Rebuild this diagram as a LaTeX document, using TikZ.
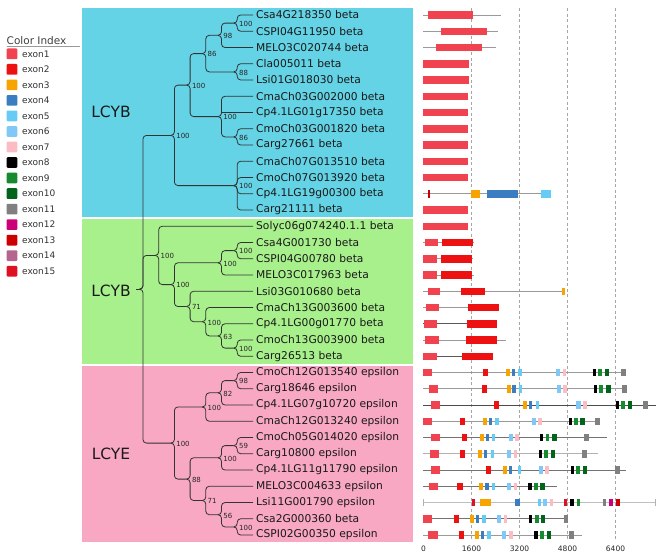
\documentclass[tikz,border=0pt]{standalone}
\usepackage{fontspec}
\setmainfont{DejaVu Sans}
\definecolor{e1}{HTML}{F0434F}
\definecolor{e2}{HTML}{EE1111}
\definecolor{e3}{HTML}{F7A400}
\definecolor{e4}{HTML}{3A7DC0}
\definecolor{e5}{HTML}{66CCF5}
\definecolor{e6}{HTML}{80C8F8}
\definecolor{e7}{HTML}{FBBCC4}
\definecolor{e8}{HTML}{000000}
\definecolor{e9}{HTML}{158A2E}
\definecolor{e10}{HTML}{00641A}
\definecolor{e11}{HTML}{808080}
\definecolor{e12}{HTML}{CC0077}
\definecolor{e13}{HTML}{CC0000}
\definecolor{e14}{HTML}{B5668F}
\definecolor{e15}{HTML}{DD1122}
\definecolor{bgcyan}{HTML}{64D3E5}
\definecolor{bggreen}{HTML}{A8F08C}
\definecolor{bgpink}{HTML}{F8A8C2}
\tikzset{
  branch/.style={draw=black!80, line width=0.8pt, rounded corners=3.5pt},
  leaf/.style={anchor=west, inner xsep=3pt, inner ysep=1pt, text=black!90, font=\fontsize{10.7}{12}\selectfont},
  boot/.style={anchor=west, inner sep=0.5pt, xshift=1.2pt, yshift=-0.8pt, text=black!85, font=\fontsize{7}{8}\selectfont},
  clade/.style={text=black!90, font=\fontsize{15.5}{18}\selectfont},
  legbox/.style={minimum size=10.7pt, inner sep=0pt, rounded corners=1pt},
  legtext/.style={anchor=west, inner sep=0pt, text=black!80, font=\fontsize{9}{10}\selectfont},
  axlab/.style={inner sep=0pt, text=black!85, font=\fontsize{7.5}{9}\selectfont},
  gridline/.style={draw=black!35, line width=0.6pt, dash pattern=on 3pt off 2.5pt},
}
\newcommand{\inedge}[2]{\draw[branch] ([xshift=-3.5pt]#1) -- (#1) |- ([xshift=-3.5pt]#2);}
\newcommand{\lfedge}[2]{\draw[branch] ([xshift=-3.5pt]#1) -- (#1) |- (#2);}
\newcommand{\genrow}[4][black!40]{%
  \draw[draw=#1, line width=0.8pt] (423.3,#2) -- (#3,#2);
  \foreach \c/\a/\b in {#4} {\fill[fill=\c] ({\a},{#2-3.75}) rectangle ({\b},{#2+3.75});}
}
\begin{document}
\begin{tikzpicture}[x=1pt,y=-1pt]
\useasboundingbox (0,0) rectangle (661,557);
\fill[white] (0,0) rectangle (661,557);
% clade backgrounds
\fill[bgcyan] (82,8) rectangle (413,217);
\fill[bggreen] (82,219) rectangle (413,363.5);
\fill[bgpink] (82,366) rectangle (413,542);
\node[clade] (labA) at (111,112) {LCYB};
\node[clade] (labB) at (111,291) {LCYB};
\node[clade] (labC) at (111,454) {LCYE};
% legend
\node[anchor=west, inner sep=0pt, text=black!75, font=\fontsize{10.5}{12}\selectfont] (legtitle) at (6.5,41) {Color Index};
\draw[black!40, line width=0.7pt] (6.5,46) -- (80,46);
\foreach \k in {1,...,15} {
  \node[legbox, fill=e\k] (sq\k) at (12,{53.8+15.53*(\k-1)}) {};
  \node[legtext] (lt\k) at (22,{53.8+15.53*(\k-1)}) {exon\k};
}
% leaves
\foreach \i/\t in {0/Csa4G218350 beta, 1/CSPI04G11950 beta, 2/MELO3C020744 beta, 3/Cla005011 beta, 4/Lsi01G018030 beta, 5/CmaCh03G002000 beta, 6/Cp4.1LG01g17350 beta, 7/CmoCh03G001820 beta, 8/Carg27661 beta, 9/CmaCh07G013510 beta, 10/CmoCh07G013920 beta, 11/Cp4.1LG19g00300 beta, 12/Carg21111 beta, 13/Solyc06g074240.1.1 beta, 14/Csa4G001730 beta, 15/CSPI04G00780 beta, 16/MELO3C017963 beta, 17/Lsi03G010680 beta, 18/CmaCh13G003600 beta, 19/Cp4.1LG00g01770 beta, 20/CmoCh13G003900 beta, 21/Carg26513 beta, 22/CmoCh12G013540 epsilon, 23/Carg18646 epsilon, 24/Cp4.1LG07g10720 epsilon, 25/CmaCh12G013240 epsilon, 26/CmoCh05G014020 epsilon, 27/Carg10800 epsilon, 28/Cp4.1LG11g11790 epsilon, 29/MELO3C004633 epsilon, 30/Lsi11G001790 epsilon, 31/Csa2G000360 beta, 32/CSPI02G00350 epsilon}
  {\node[leaf] (l\i) at (253,{15+16.25*\i}) {\t};}
% internal nodes
\coordinate (F) at (237.2,23.1);
\coordinate (E) at (221.5,35.3);
\coordinate (G) at (237.2,71.9);
\coordinate (D) at (205.8,53.6);
\coordinate (I) at (237.2,136.9);
\coordinate (H) at (221.5,116.6);
\coordinate (C) at (190.1,85.1);
\coordinate (J) at (237.2,185.6);
\coordinate (A) at (174.4,135.4);
\coordinate (P) at (237.2,250.6);
\coordinate (M) at (221.5,262.8);
\coordinate (R) at (237.2,348.1);
\coordinate (Q) at (221.5,335.9);
\coordinate (O) at (205.8,321.7);
\coordinate (N) at (190.1,306.5);
\coordinate (L) at (174.4,284.6);
\coordinate (K) at (158.7,255.4);
\coordinate (V) at (237.2,380.6);
\coordinate (U) at (221.5,392.8);
\coordinate (T) at (205.8,407);
\coordinate (Y) at (237.2,445.6);
\coordinate (X) at (221.5,457.8);
\coordinate (AB) at (237.2,526.9);
\coordinate (AA) at (221.5,514.7);
\coordinate (Z) at (205.8,500.5);
\coordinate (W) at (190.1,479.1);
\coordinate (S) at (174.4,443.1);
\coordinate (root) at (143,289.2);
\coordinate (stub) at (136,289.2);
% branches
\lfedge{F}{l0} \lfedge{F}{l1}
\inedge{E}{F} \lfedge{E}{l2}
\lfedge{G}{l3} \lfedge{G}{l4}
\inedge{D}{E} \inedge{D}{G}
\lfedge{I}{l7} \lfedge{I}{l8}
\lfedge{H}{l5} \draw[branch] (H |- l6) -- (l6); \inedge{H}{I}
\inedge{C}{D} \inedge{C}{H}
\lfedge{J}{l9} \lfedge{J}{l10} \lfedge{J}{l11} \lfedge{J}{l12}
\inedge{A}{C} \inedge{A}{J}
\lfedge{P}{l14} \lfedge{P}{l15}
\inedge{M}{P} \lfedge{M}{l16}
\lfedge{R}{l20} \lfedge{R}{l21}
\lfedge{Q}{l19} \inedge{Q}{R}
\lfedge{O}{l18} \inedge{O}{Q}
\lfedge{N}{l17} \inedge{N}{O}
\inedge{L}{M} \inedge{L}{N}
\lfedge{K}{l13} \inedge{K}{L}
\lfedge{V}{l22} \lfedge{V}{l23}
\inedge{U}{V} \lfedge{U}{l24}
\inedge{T}{U} \lfedge{T}{l25}
\lfedge{Y}{l26} \lfedge{Y}{l27}
\inedge{X}{Y} \lfedge{X}{l28}
\lfedge{AB}{l31} \lfedge{AB}{l32}
\lfedge{AA}{l30} \inedge{AA}{AB}
\lfedge{Z}{l29} \inedge{Z}{AA}
\inedge{W}{X} \inedge{W}{Z}
\inedge{S}{T} \inedge{S}{W}
\inedge{root}{A} \inedge{root}{K} \inedge{root}{S}
\draw[branch] (stub) -- ([xshift=-3.5pt]root);
% bootstrap values
\foreach \n/\v in {A/100, C/100, D/86, E/98, F/100, G/88, H/100, I/86, J/100, K/100, L/100, M/100, P/100, N/71, O/100, Q/63, R/100, S/100, T/100, U/82, V/98, W/88, X/100, Y/59, Z/71, AA/56, AB/100}
  {\node[boot] (b\n) at (\n) {\v};}
% gene structure panel
\foreach \gx in {471.5,519.5,567.5,615.5} {\draw[gridline] (\gx,8) -- (\gx,541);}
\node[axlab] (ax0) at (423.5,548.7) {0};
\node[axlab] (ax1) at (471.5,548.7) {1600};
\node[axlab] (ax2) at (519.5,548.7) {3200};
\node[axlab] (ax3) at (567.5,548.7) {4800};
\node[axlab] (ax4) at (615.5,548.7) {6400};
\genrow{15}{501}{e1/427.7/473.3}
\genrow{31.25}{498.3}{e1/441/486.7}
\genrow{47.5}{495.7}{e1/436/481.7}
\genrow{63.75}{423.3}{e1/423.3/468.7}
\genrow{80}{423.3}{e1/423.3/468.7}
\foreach \yy in {96.25,112.5,128.75,145,161.25,177.5,210} {\fill[e1] (423.3,\yy-3.75) rectangle (468,\yy+3.75);}
\genrow{193.75}{551}{e13/428.3/429.8, e3/470.7/480.3, e4/487/518, e5/541.3/551}
\genrow{226.25}{423.3}{e1/423.3/468.3}
\genrow{242.5}{474.3}{e1/425/438, e2/442/473}
\genrow{258.75}{472.5}{e1/423.3/437, e2/441/471.7}
\genrow{275}{474.3}{e1/423.3/437, e2/441.3/472.3}
\genrow{291.25}{565}{e1/427.7/440.3, e2/460.7/485, e3/562/565}
\genrow{307.5}{499}{e1/426/439.3, e2/468.3/499}
\genrow[black!65]{323.75}{496.7}{e1/424.3/437, e2/467.3/496.7}
\genrow{340}{505.7}{e1/425.3/439, e2/466/496.7}
\genrow[black!65]{356.25}{492.7}{e1/423.3/437, e2/462/492.7}
\genrow{372.5}{625.7}{e1/423.3/432.3, e2/483/488, e3/505.7/510, e4/512/515, e5/518.3/521.7, e6/555.7/560, e7/562.7/566, e8/593/596, e9/598.3/602, e10/605/609, e11/620.7/625.7}
\genrow{388.75}{626.7}{e1/429/438.3, e2/482/487, e3/506.7/510.7, e4/512/515.7, e5/519/522.3, e6/556.7/560.7, e7/563.3/567, e8/594/597, e9/599.3/603, e10/606.3/610.7, e11/622.3/626.7}
\genrow[black!70]{405}{655.7}{e1/431/440.3, e2/494/499.3, e3/523/527.3, e4/529/532.3, e5/535.7/539, e6/576.3/580.7, e7/583.3/587, e8/615.7/618.7, e9/620.7/624.7, e10/628/632.3, e11/643.3/648.3}
\genrow{421.25}{600.3}{e1/423.3/432.3, e2/460/465.3, e3/482.7/486.7, e4/488.7/492, e5/495.3/498.7, e6/531.7/535.7, e7/538.3/541.7, e8/568.7/571.7, e9/574/577.7, e10/580.3/585, e11/595.3/600.3}
\genrow[black!55]{437.5}{607}{e1/430.7/440, e2/462/467, e3/479.7/483.7, e4/485.7/489, e5/492/495.3, e6/508.7/512.7, e7/515.3/518.7, e8/540/543, e9/545.7/549.3, e10/552.3/556.7, e11/583.7/588.7}
\genrow[black!30]{453.75}{598.3}{e1/429.7/439, e2/460/465.3, e3/477.7/482, e4/483.7/487, e5/491/494.3, e6/507/511, e7/513.7/517, e8/538.7/541.7, e9/544/548, e10/551/555.3, e11/582.3/587.3}
\genrow[black!55]{470}{625.7}{e1/431/440.3, e2/486/491.3, e3/502.7/507, e4/509/512.3, e5/518/521, e6/538.7/543, e7/545.3/549, e8/570.7/573.7, e9/576/580, e10/583/587.3, e11/615/620.3}
\genrow[black!55]{486.25}{556.7}{e1/429/438.3, e2/457.3/462.7, e3/479/483, e4/485.3/488.7, e5/492/495.3, e6/507/511, e7/513.7/517, e8/528.3/531.7, e9/533.7/537.7, e10/540/545}
\genrow[black!25]{502.5}{655.7}{e15/472/474.7, e3/480/491, e4/515.3/520.3, e5/537.7/541, e6/543.3/546.7, e7/550/553.3, e15/564/567.3, e8/570.3/573.7, e9/576.7/580, e11/603.3/606, e12/608.7/613.3, e13/616/620}
\draw[black!30, line width=0.7pt] (423.3,499) -- (423.3,506) (655.7,499) -- (655.7,506);
\genrow[black!55]{518.75}{568.3}{e1/423.3/432.3, e2/453.7/458.7, e3/469.7/473.7, e4/475.7/478.7, e5/482.3/485.7, e6/497/501, e7/503.7/507.3, e8/529.3/532.3, e9/535/539, e10/540.7/545, e11/563.7/568.3}
\genrow{535}{581.7}{e1/428.3/437.7, e2/458.7/464, e3/474.7/479, e4/480.7/484, e5/487.3/490.7, e6/502.3/506.3, e7/509/512.7, e8/534.3/537.7, e9/540.3/544.3, e10/546.7/551, e11/568.7/573.7}
\end{tikzpicture}
\end{document}
